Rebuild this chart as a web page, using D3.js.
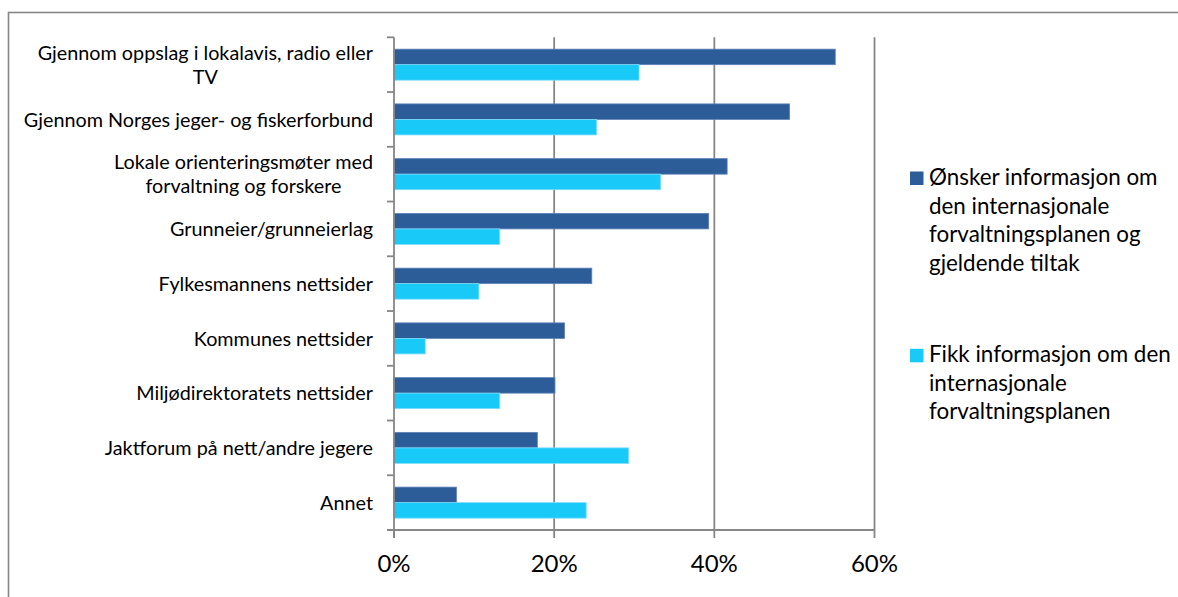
<!DOCTYPE html>
<html>
<head>
<meta charset="utf-8">
<script src="https://cdn.jsdelivr.net/npm/d3@7"></script>
<style>
  html, body { margin: 0; padding: 0; background: #fff; }
  svg { display: block; }
  text { font-family: Lato, "Open Sans", sans-serif; fill: #000; }
</style>
</head>
<body>
<svg id="chart" width="1178" height="597"></svg>
<script>
const categories = [
  "Gjennom oppslag i lokalavis, radio eller|TV",
  "Gjennom Norges jeger- og fiskerforbund",
  "Lokale orienteringsmøter med|forvaltning og forskere",
  "Grunneier/grunneierlag",
  "Fylkesmannens nettsider",
  "Kommunes nettsider",
  "Miljødirektoratets nettsider",
  "Jaktforum på nett/andre jegere",
  "Annet"
];
const seriesNames = [
  "Ønsker informasjon om|den internasjonale|forvaltningsplanen og|gjeldende tiltak",
  "Fikk informasjon om den|internasjonale|forvaltningsplanen"
];
const onsker = [55.1, 49.4, 41.6, 39.3, 24.7, 21.3, 20.1, 17.9, 7.8];
const fikk   = [30.6, 25.3, 33.3, 13.2, 10.6, 3.9, 13.2, 29.3, 24.0];
const xTicks = [0, 20, 40, 60];
const tickLabels = ["0%", "20%", "40%", "60%"];

const colors = ["#2c5d98", "#19c9f8"];
const strokes = ["#5f83b8", "#7fdcfa"];
const values = [onsker, fikk];

const svg = d3.select("#chart");
const L = 394, R = 874.5, T = 37.3, B = 530;

// outer frame
svg.append("rect").attr("x", 8.5).attr("y", 12.5).attr("width", 1200).attr("height", 700)
  .attr("fill", "none").attr("stroke", "#868686").attr("stroke-width", 1.6);

const x = d3.scaleLinear().domain([0, 60]).range([L, R]);
const y = d3.scaleBand().domain(d3.range(categories.length)).range([T, B])
  .paddingInner(0.433).paddingOuter(0.2165);
const ySub = d3.scaleBand().domain([0, 1]).range([0, y.bandwidth()]);
const step = y.step();

// gridlines
svg.append("g").selectAll("line").data(xTicks.slice(1)).join("line")
  .attr("x1", d => x(d)).attr("x2", d => x(d)).attr("y1", T).attr("y2", B)
  .attr("stroke", "#868686").attr("stroke-width", 1.8);

// bars
values.forEach((vals, s) => {
  svg.append("g").selectAll("rect").data(vals).join("rect")
    .attr("x", x(0))
    .attr("y", (d, i) => y(i) + ySub(s))
    .attr("width", d => x(d) - x(0))
    .attr("height", ySub.bandwidth())
    .attr("fill", colors[s])
    .attr("stroke", strokes[s]).attr("stroke-width", 0.8);
});

// left axis line and tick marks at category boundaries
svg.append("line").attr("x1", L).attr("x2", L).attr("y1", T).attr("y2", B + 8)
  .attr("stroke", "#868686").attr("stroke-width", 1.8);
svg.append("g").selectAll("line").data(d3.range(categories.length + 1)).join("line")
  .attr("x1", L - 7).attr("x2", L)
  .attr("y1", i => T + i * step).attr("y2", i => T + i * step)
  .attr("stroke", "#868686").attr("stroke-width", 1.8);

// bottom axis
svg.append("line").attr("x1", L - 7).attr("x2", R).attr("y1", B).attr("y2", B)
  .attr("stroke", "#868686").attr("stroke-width", 1.8);
svg.append("g").selectAll("line").data(xTicks).join("line")
  .attr("x1", d => x(d)).attr("x2", d => x(d)).attr("y1", B).attr("y2", B + 8)
  .attr("stroke", "#868686").attr("stroke-width", 1.8);
svg.append("g").selectAll("text").data(xTicks).join("text")
  .attr("x", d => x(d)).attr("y", 572)
  .attr("text-anchor", "middle").attr("font-size", 24)
  .text((d, i) => tickLabels[i]);

// category labels (block right-aligned, lines centered)
const labelRight = 373;
const catFont = 19.8, catLH = 24;
categories.forEach((c, i) => {
  const lines = c.split("|");
  const cy = y(i) + y.bandwidth() / 2;
  const g = svg.append("g");
  const texts = lines.map((ln, k) => g.append("text")
    .attr("font-size", catFont)
    .attr("y", cy + (k - (lines.length - 1) / 2) * catLH + catFont * 0.36)
    .text(ln));
  const widths = texts.map(t => t.node().getComputedTextLength());
  const maxW = d3.max(widths);
  texts.forEach(t => t.attr("x", labelRight - maxW / 2).attr("text-anchor", "middle"));
});

// legend
const legFont = 22.4, legLH = 28.5;
const legTop = [185, 362.3];
seriesNames.forEach((nm, s) => {
  const g = svg.append("g");
  g.append("rect").attr("x", 910).attr("y", legTop[s] - 13.5).attr("width", 13.5).attr("height", 13.5)
    .attr("fill", colors[s]);
  nm.split("|").forEach((ln, k) => {
    g.append("text").attr("x", 929).attr("y", legTop[s] + k * legLH)
      .attr("font-size", legFont).text(ln);
  });
});
</script>
</body>
</html>
